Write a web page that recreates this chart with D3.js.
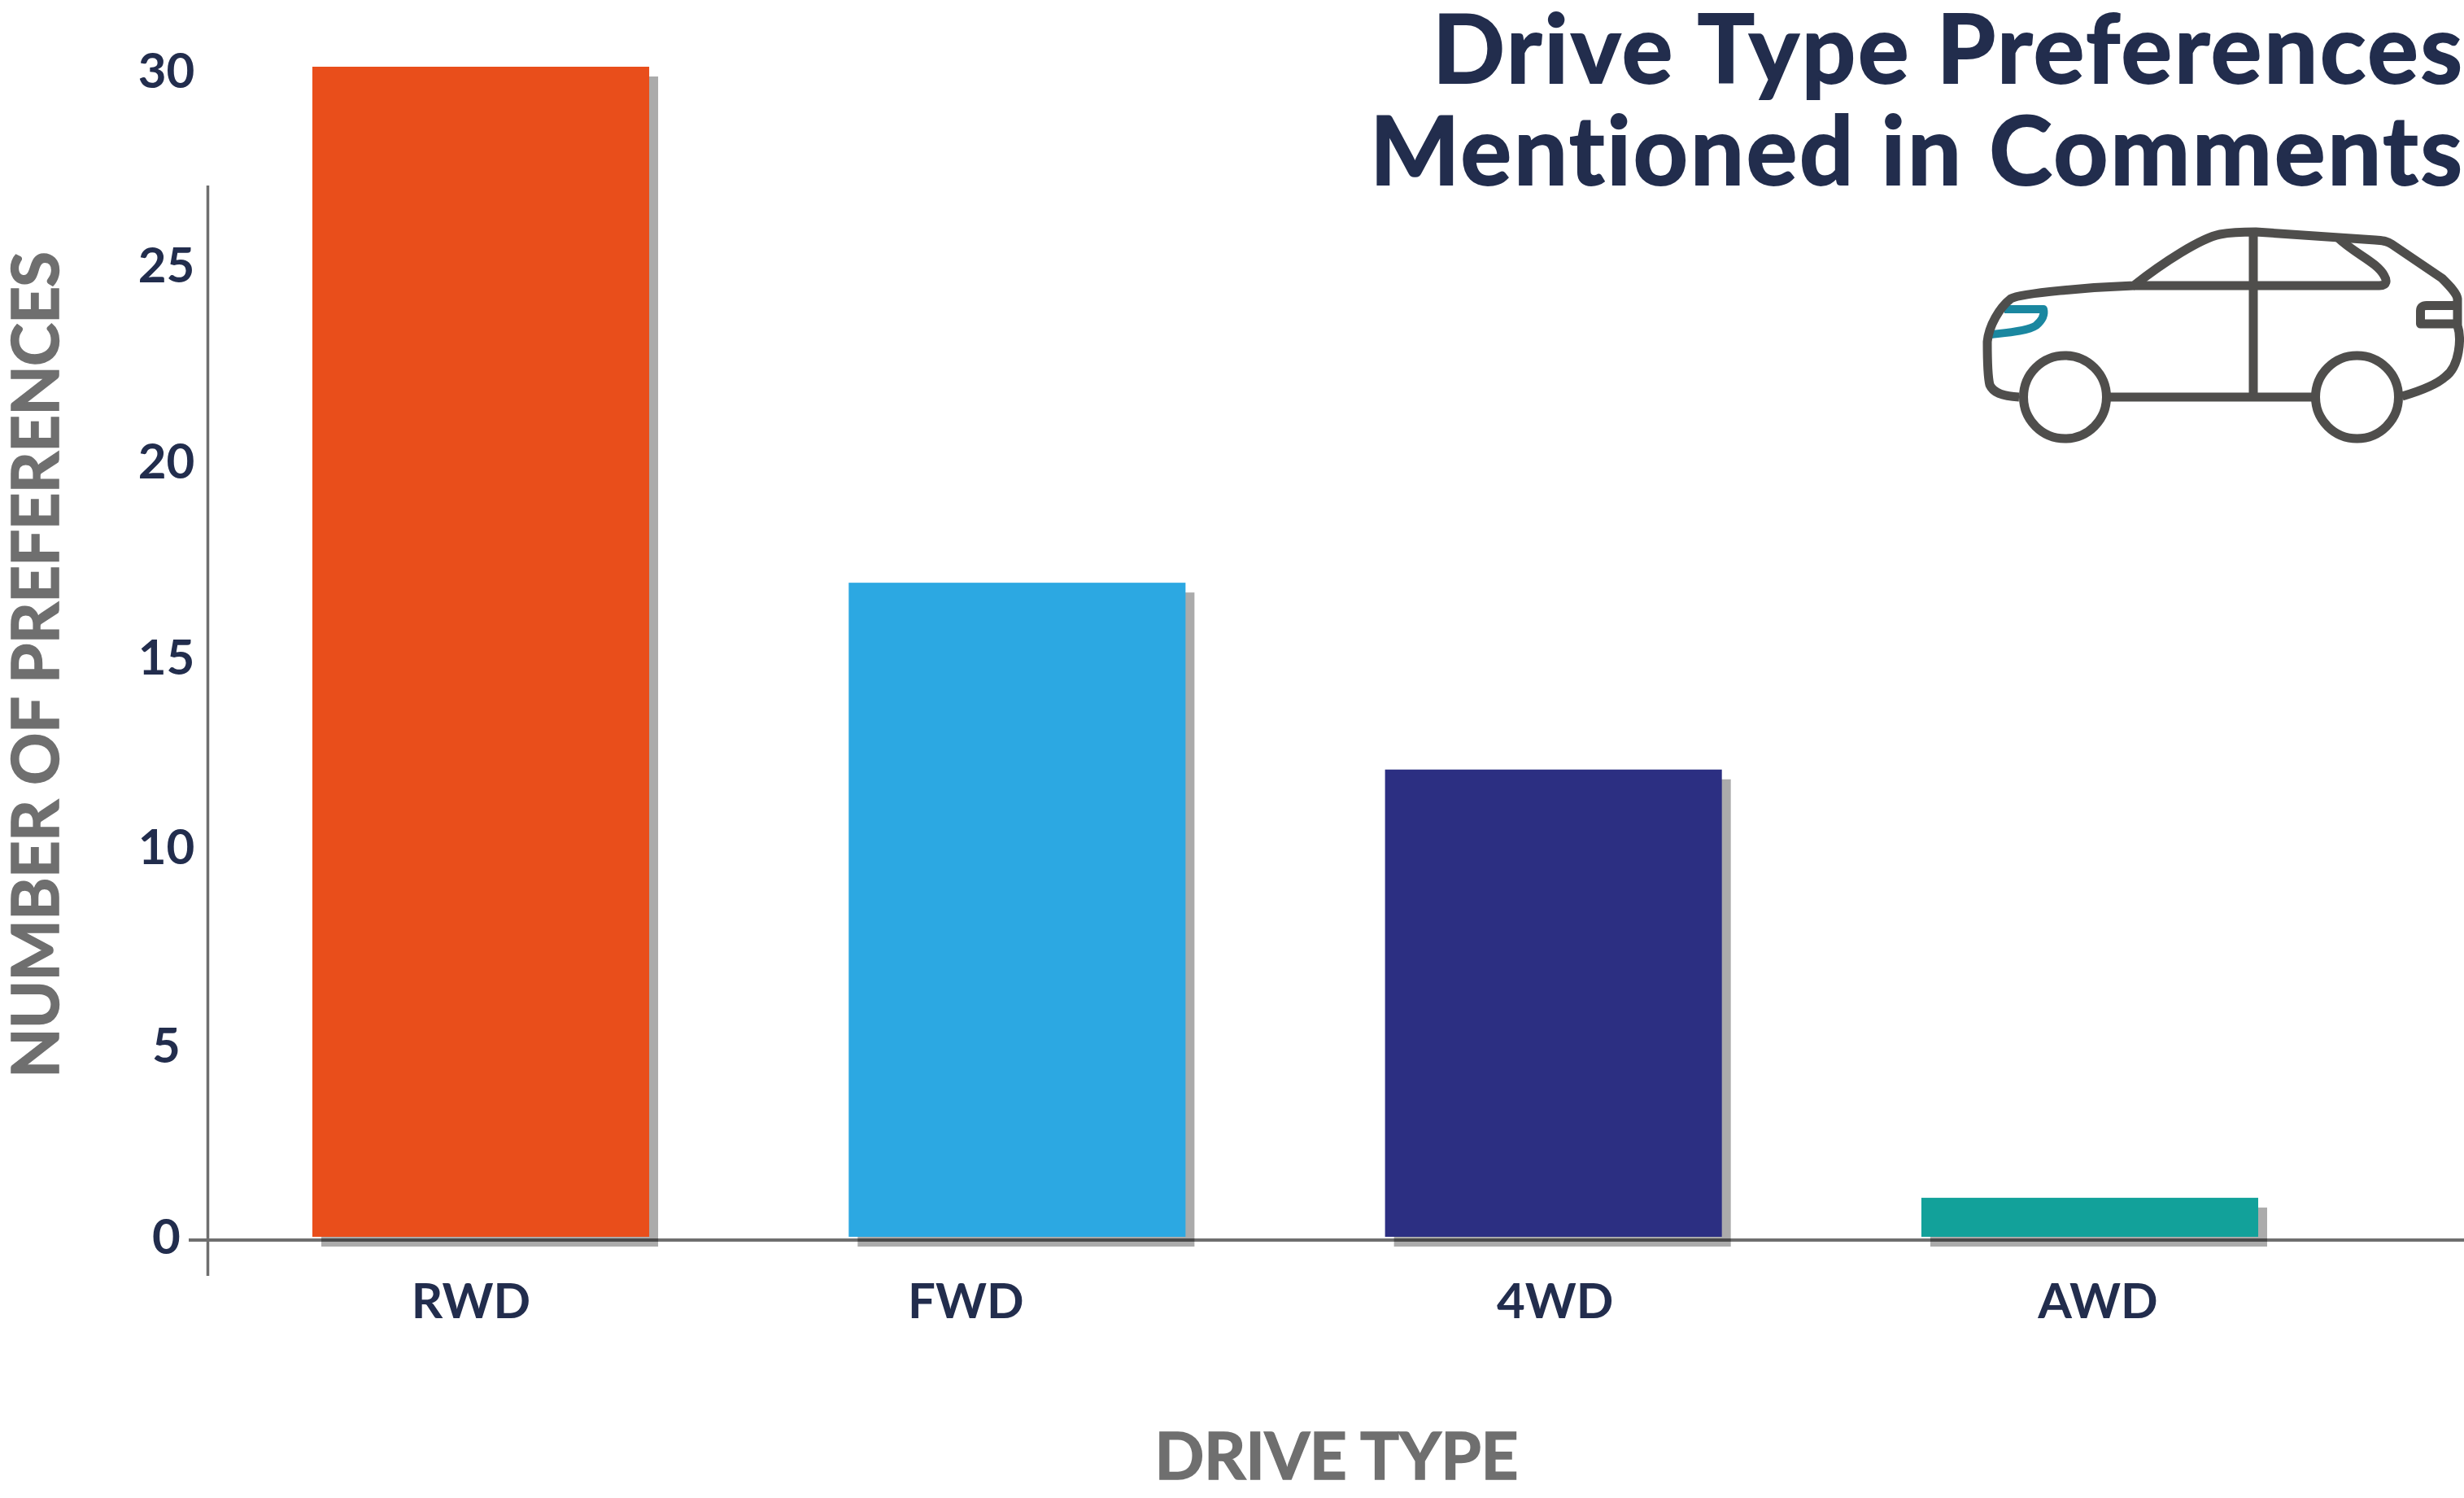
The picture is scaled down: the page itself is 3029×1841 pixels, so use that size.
<!DOCTYPE html>
<html>
<head>
<meta charset="utf-8">
<script src="https://cdn.jsdelivr.net/npm/d3@7"></script>
<style>
  html, body { margin: 0; padding: 0; background: #fff; }
  svg { display: block; }
  text { font-family: Lato, "Open Sans", sans-serif; font-variant-ligatures: none; }
</style>
</head>
<body>
<svg id="chart" width="3029" height="1841"></svg>
<script>
// data
var categories = ["RWD", "FWD", "4WD", "AWD"];
var values = [30, 16.77, 11.98, 1];
var barColors = ["#e94e1b", "#2ca8e2", "#2c2f82", "#12a19a"];
var yTicks = [0, 5, 10, 15, 20, 25, 30];
var titleLines = ["Drive Type Preferences", "Mentioned in Comments"];

var navy = "#222d4d", gray = "#6f6f6f";
var svg = d3.select("#chart");

var x = d3.scaleBand().domain(categories).range([384, 2776]).paddingInner(0.372).paddingOuter(0);
var y = d3.scaleLinear().domain([0, 30]).range([1520, 82]);
// the tick labels sit a little off the bar scale in the original
var yLabel = d3.scaleLinear().domain([0, 30]).range([1519, 86]);

// axis lines
svg.append("line").attr("x1", 255.5).attr("x2", 255.5).attr("y1", 228).attr("y2", 1568)
   .attr("stroke", gray).attr("stroke-width", 3.5);
svg.append("line").attr("x1", 232).attr("x2", 3029).attr("y1", 1524).attr("y2", 1524)
   .attr("stroke", gray).attr("stroke-width", 4);

// shadows go over the axis line, bars on top
svg.selectAll("rect.shadow").data(categories).enter().append("rect")
   .attr("class", "shadow")
   .attr("x", function(d) { return x(d) + 11; })
   .attr("y", function(d, i) { return y(values[i]) + 12; })
   .attr("width", x.bandwidth())
   .attr("height", function(d, i) { return y(0) - y(values[i]); })
   .attr("fill", "#000").attr("opacity", 0.33);

svg.selectAll("rect.bar").data(categories).enter().append("rect")
   .attr("class", "bar")
   .attr("x", function(d) { return x(d); })
   .attr("y", function(d, i) { return y(values[i]); })
   .attr("width", x.bandwidth())
   .attr("height", function(d, i) { return y(0) - y(values[i]); })
   .attr("fill", function(d, i) { return barColors[i]; });

// y tick labels, hand placed and slightly uneven in the original
var tickShift = [0, 4, -1, 4.5, 2, 0, 0];
var yAxis = d3.axisLeft(yLabel).tickValues(yTicks).tickSize(0).tickPadding(0);
var yG = svg.append("g").attr("transform", "translate(204.5,0)").call(yAxis);
yG.select(".domain").remove();
yG.selectAll("text")
  .attr("text-anchor", "middle").attr("x", 0)
  .attr("y", function(d, i) { return tickShift[i]; })
  .attr("dy", "0.36em")
  .attr("font-size", 60).attr("font-weight", 700)
  .attr("font-family", "Lato").attr("fill", navy);

// x tick labels, not quite centred under the bars in the original
var labelShift = [-12, -63, 2, 10];
var xAxis = d3.axisBottom(x).tickSize(0).tickPadding(0);
var xG = svg.append("g").attr("transform", "translate(0,1620)").call(xAxis);
xG.select(".domain").remove();
xG.selectAll("text")
  .attr("y", 0).attr("dy", 0)
  .attr("dx", function(d, i) { return labelShift[i]; })
  .attr("font-size", 60).attr("font-weight", 700)
  .attr("font-family", "Lato").attr("fill", navy);

// axis titles
svg.append("text").attr("x", 1643).attr("y", 1818).attr("text-anchor", "middle")
   .attr("font-size", 80).attr("font-weight", 700).attr("fill", gray)
   .attr("stroke", gray).attr("stroke-width", 1.5)
   .attr("textLength", 447).text("DRIVE TYPE");
svg.append("text").attr("transform", "translate(72,817) rotate(-90)").attr("text-anchor", "middle")
   .attr("font-size", 80).attr("font-weight", 700).attr("fill", gray)
   .attr("stroke", gray).attr("stroke-width", 1.5)
   .attr("textLength", 1016).text("NUMBER OF PREFERENCES");

// title
svg.selectAll("text.title").data(titleLines).enter().append("text")
   .attr("class", "title")
   .attr("x", 3027)
   .attr("y", function(d, i) { return 102 + i * 125; })
   .attr("text-anchor", "end")
   .attr("font-size", 117).attr("font-weight", 700).attr("fill", navy)
   .attr("stroke", navy).attr("stroke-width", 2)
   .attr("textLength", function(d, i) { return i ? 1343 : 1266; })
   .text(function(d) { return d; });

// car icon
var car = svg.append("g").attr("transform", "translate(2400,260)")
   .attr("fill", "none").attr("stroke-linecap", "butt").attr("stroke-linejoin", "round");
car.append("path")
   .attr("d", "M64,120 L112,120 C114,128 110,134 103,140 C93,147 65,149 48,151")
   .attr("stroke", "#1a87a0").attr("stroke-width", 10);
var carPaths = [
  "M82,228 C60,227 50,222 46,213 C44,205 43,180 43,160 C45,140 58,118 72,107 C85,100 170,93 223,91 C260,62 305,33 329,28 C345,25 360,25 373,25 L520,35 C530,36 534,36 540,40 L602,82 C612,92 620,100 621,107 L621,140 C626,155 624,190 606,203 C595,213 570,222 553,227",
  "M223,91 L525,91 C535,91 534,84 531,79 C522,62 495,52 475,33",
  "M370,25 L370,228",
  "M190,228 L443,228",
  "M620,115.5 L583,115.5 Q575.5,115.5 575.5,122 L575.5,138 L620,138"
];
car.selectAll("path.line").data(carPaths).enter().append("path")
   .attr("class", "line").attr("d", function(d) { return d; })
   .attr("stroke", "#4f4e4c").attr("stroke-width", 11);
car.selectAll("circle").data([138.5, 497.5]).enter().append("circle")
   .attr("cx", function(d) { return d; }).attr("cy", 228).attr("r", 51)
   .attr("stroke", "#4f4e4c").attr("stroke-width", 11);
</script>
</body>
</html>
